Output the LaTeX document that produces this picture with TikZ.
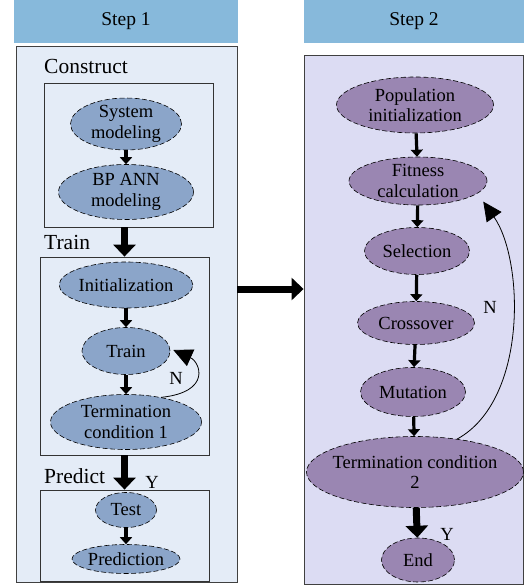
\documentclass[tikz,border=0pt]{standalone}
\usepackage{fontspec}
\setmainfont{Liberation Serif}
\usetikzlibrary{arrows.meta,positioning,shapes.geometric}

\definecolor{headblue}{HTML}{87B9DB}
\definecolor{paneA}{HTML}{E4ECF7}
\definecolor{paneB}{HTML}{DCDCF3}
\definecolor{ovalA}{HTML}{8BA5C9}
\definecolor{ovalB}{HTML}{9A86B2}

\begin{document}
\begin{tikzpicture}[x=1pt,y=-1pt, font=\fontsize{18.5}{20.5}\selectfont,
  head/.style={fill=headblue,minimum height=43pt,inner sep=0pt,font=\fontsize{19.5}{22}\selectfont},
  pane/.style={draw=black!75,line width=0.9pt,inner sep=0pt},
  grp/.style={draw=black!80,line width=0.8pt,inner sep=0pt},
  lbl/.style={anchor=west,inner sep=0pt,font=\fontsize{21.5}{23}\selectfont},
  ov/.style={ellipse,draw,dash pattern=on 5pt off 2.5pt,align=center,inner sep=0pt,line width=0.6pt},
  ova/.style={ov,fill=ovalA},
  ovb/.style={ov,fill=ovalB},
  lk/.style={-{Triangle[length=7pt,width=12pt]},line width=3.2pt},
  bk/.style={-{Triangle[length=12pt,width=22pt]},line width=7pt},
  lp/.style={-{Triangle[length=19pt,width=18pt]},line width=0.8pt}]
  \useasboundingbox (0,0) rectangle (524,586);

  % headers and panes
  \node[head,minimum width=224pt] (h1) at (126,21.5) {Step 1};
  \node[head,minimum width=220pt] (h2) at (414,21.5) {Step 2};
  \node[pane,fill=paneA,minimum width=221pt,minimum height=536pt] (p1) at (126.5,314) {};
  \node[pane,fill=paneB,minimum width=219pt,minimum height=529pt] (p2) at (413.5,319.5) {};

  % step 1: group boxes
  \node[grp,minimum width=169pt,minimum height=144pt] (con) at (128.5,155) {};
  \node[grp,minimum width=169pt,minimum height=198pt] (trn) at (124.5,356) {};
  \node[grp,minimum width=169pt,minimum height=91pt] (prd) at (124.5,535.5) {};
  \node[lbl] (lcon) at (44,66) {Construct};
  \node[lbl] (ltrn) at (44,242) {Train};
  \node[lbl] (lprd) at (44,476) {Predict};

  % step 1: ovals
  \node[ova,minimum width=111pt,minimum height=48pt] (sys) at (126,124) {System\\modeling};
  \node[ova,minimum width=135pt,minimum height=55pt] (bp) at (126,192) {BP ANN\\modeling};
  \node[ova,minimum width=133pt,minimum height=46pt] (ini) at (126,285) {Initialization};
  \node[ova,minimum width=88pt,minimum height=47pt] (tr) at (126,351) {Train};
  \node[ova,minimum width=151pt,minimum height=55pt] (tc1) at (126,422) {Termination\\condition 1};
  \node[ova,minimum width=61pt,minimum height=35pt] (tst) at (126,510) {Test};
  \node[ova,minimum width=108pt,minimum height=29pt] (pre) at (126,559) {Prediction};

  \draw[lk] (sys) -- (bp);
  \draw[lk] (ini) -- (tr);
  \draw[lk] (tr) -- (tc1);
  \draw[lk] (tst) -- (pre);
  \draw[bk] (trn.north |- con.south) -- (trn.north);
  \draw[bk] (trn.south) -- (prd.north);
  \draw[lp] (tc1.35) .. controls (212,392) and (200,362) .. ([shift={(3pt,1pt)}]tr.east);
  \node (n1) at (176,378) {N};
  \node (y1) at (152,482) {Y};

  % step 1 -> step 2
  \coordinate (mid) at (0,289);
  \draw[bk] (p1.east |- mid) -- (p2.west |- mid);

  % step 2: ovals
  \node[ovb,minimum width=157pt,minimum height=56pt] (pop) at (415,105) {Population\\initialization};
  \node[ovb,minimum width=138pt,minimum height=48pt] (fit) at (418,181) {Fitness\\calculation};
  \node[ovb,minimum width=105pt,minimum height=47pt] (sel) at (417,251) {Selection};
  \node[ovb,minimum width=117pt,minimum height=43pt] (cro) at (416,323) {Crossover};
  \node[ovb,minimum width=105pt,minimum height=49pt] (mut) at (413,392) {Mutation};
  \node[ovb,minimum width=217pt,minimum height=71pt,inner xsep=-6pt] (tc2) at (415,472) {Termination condition\\2};
  \node[ovb,minimum width=73pt,minimum height=44pt] (end) at (418,560) {End};

  \draw[lk] (pop) -- (fit);
  \draw[lk] (fit) -- (sel);
  \draw[lk] (sel) -- (cro);
  \draw[lk] (cro) -- (mut);
  \draw[lk] (mut) -- (tc2);
  \draw[bk] (tc2) -- (end);
  \draw[lp] (tc2.38) .. controls (528,400) and (524,260) .. ([shift={(6pt,-8pt)}]fit.-12);
  \node (n2) at (490,307) {N};
  \node (y2) at (447,534) {Y};
\end{tikzpicture}
\end{document}
